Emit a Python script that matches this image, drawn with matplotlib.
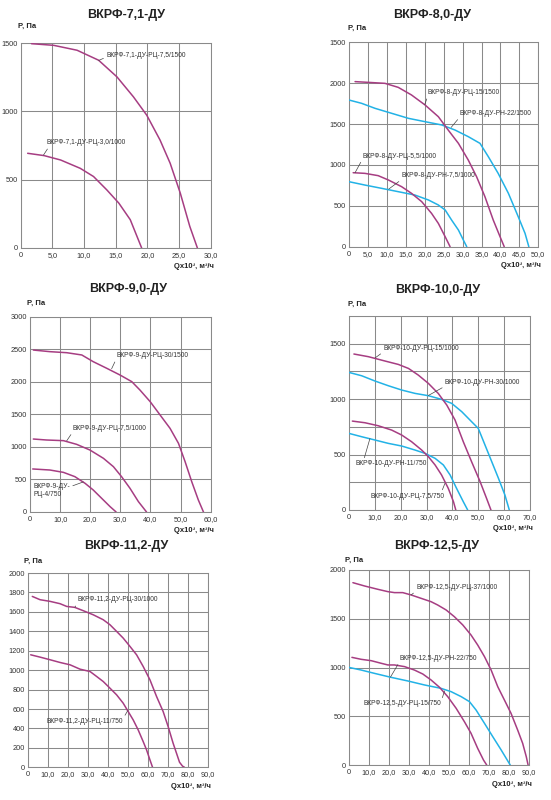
import matplotlib
matplotlib.use("Agg")
import matplotlib.pyplot as plt

plt.rcParams["font.family"] = ["Liberation Sans", "DejaVu Sans"]

W, H = 551, 800
MAGENTA = "#a63d82"
CYAN = "#22b2e6"
GRID = "#8a8a8a"
TEXT = "#333333"

# ---- ВКРФ-7,1-ДУ ----
Q71_RC75 = [1.7, 5.2, 8.9, 12.3, 15.2, 17.8, 19.9, 22.0, 23.6, 25.2, 26.7, 27.9]
P71_RC75 = [1495, 1483, 1447, 1374, 1252, 1106, 972, 790, 620, 401, 158, 0]
Q71_RC30 = [1.1, 3.7, 6.3, 9.4, 11.5, 13.6, 15.5, 17.3, 19.1]
P71_RC30 = [693, 676, 644, 583, 523, 425, 328, 207, 0]

# ---- ВКРФ-8,0-ДУ ----
Q80_RC15 = [1.6, 5.1, 9.5, 13.0, 16.5, 20.1, 23.6, 26.2, 28.9, 31.5, 33.7, 35.9, 38.1, 39.9, 41.0]
P80_RC15 = [2019, 2010, 1998, 1949, 1856, 1733, 1590, 1427, 1264, 1060, 856, 612, 326, 122, 0]
Q80_RN22 = [0, 3.3, 6.9, 11.3, 15.7, 20.1, 24.5, 28.0, 31.5, 34.6, 36.8, 39.4, 42.1, 44.7, 46.5, 47.5]
P80_RN22 = [1794, 1754, 1692, 1631, 1570, 1529, 1489, 1427, 1346, 1264, 1101, 897, 653, 367, 163, 0]
Q80_RC55 = [1.1, 4.2, 7.7, 10.4, 13.9, 16.5, 19.2, 21.8, 23.6, 25.4, 26.7]
P80_RC55 = [905, 897, 869, 816, 734, 653, 551, 408, 285, 122, 0]
Q80_RN75 = [0, 4.2, 8.6, 13.0, 17.4, 21.0, 23.6, 25.4, 27.1, 28.9, 30.2, 31.1]
P80_RN75 = [795, 754, 714, 673, 632, 571, 510, 449, 326, 204, 82, 0]

# ---- ВКРФ-9,0-ДУ ----
Q90_RC30 = [1.1, 6.6, 12.2, 17.2, 21.0, 25.5, 29.9, 33.8, 36.5, 39.9, 43.2, 46.5, 49.3, 51.5, 53.7, 55.9, 57.6]
P90_RC30 = [2488, 2463, 2447, 2412, 2309, 2207, 2104, 2002, 1874, 1695, 1490, 1285, 1055, 773, 466, 184, 0]
Q90_RC75 = [1.1, 5.5, 11.1, 15.5, 19.9, 24.4, 27.7, 30.4, 33.2, 36.0, 38.7]
P90_RC75 = [1121, 1106, 1096, 1039, 952, 824, 696, 543, 364, 159, 0]
Q90_RC4 = [0.9, 6.6, 11.1, 14.9, 18.3, 21.0, 23.8, 26.6, 28.6]
P90_RC4 = [661, 645, 609, 543, 440, 338, 210, 82, 0]

# ---- ВКРФ-10,0-ДУ ----
Q100_RC15 = [1.9, 7.5, 13.9, 19.1, 23.0, 26.8, 30.7, 34.5, 37.8, 41.0, 44.2, 47.4, 50.7, 53.2, 54.9]
P100_RC15 = [1407, 1383, 1344, 1313, 1277, 1217, 1142, 1052, 947, 812, 616, 436, 256, 105, 0]
Q100_RN30 = [0, 4.9, 10.1, 15.2, 20.4, 25.5, 30.7, 35.8, 39.7, 43.6, 47.4, 50.0, 52.6, 55.2, 57.8, 60.3, 62.0]
P100_RN30 = [1241, 1211, 1163, 1121, 1082, 1052, 1031, 998, 962, 887, 797, 736, 586, 436, 286, 135, 0]
Q100_RC75 = [1.3, 6.2, 11.3, 16.5, 20.4, 24.2, 28.1, 30.7, 33.3, 35.8, 38.4, 40.4, 41.3]
P100_RC75 = [802, 787, 760, 721, 676, 616, 541, 481, 406, 316, 195, 75, 0]
Q100_RN11 = [0, 4.9, 10.1, 15.2, 20.4, 25.5, 29.4, 33.3, 36.5, 39.1, 41.6, 44.2, 45.9]
P100_RN11 = [691, 661, 631, 601, 577, 541, 511, 466, 406, 316, 195, 75, 0]

# ---- ВКРФ-11,2-ДУ ----
Q112_RC30 = [2.3, 6.2, 11.2, 16.2, 19.5, 23.6, 27.8, 32.8, 37.8, 41.2, 44.5, 47.8, 51.2, 54.5,
             57.8, 61.2, 64.5, 67.8, 70.3, 72.8, 74.5, 76.0, 77.5, 78.5]
P112_RC30 = [1759, 1725, 1708, 1684, 1656, 1646, 1612, 1570, 1519, 1467, 1399, 1330, 1244, 1158,
             1038, 900, 729, 574, 419, 247, 144, 52, 12, 0]
Q112_RC11 = [1.5, 6.2, 11.2, 16.2, 21.2, 26.2, 31.2, 34.5, 37.8, 41.2, 44.5, 47.8, 50.3, 52.8,
             55.3, 57.8, 59.5, 61.2, 62.5]
P112_RC11 = [1158, 1134, 1107, 1079, 1055, 1010, 986, 935, 883, 814, 746, 660, 574, 488,
             385, 265, 179, 76, 0]

# ---- ВКРФ-12,5-ДУ ----
Q125_RC37 = [2.2, 8.0, 14.6, 19.6, 22.9, 27.0, 31.2, 36.2, 41.1, 44.4, 48.6, 52.7, 56.9, 61.0,
             64.3, 67.7, 71.0, 74.3, 77.6, 80.9, 84.2, 86.7, 88.5, 89.4]
P125_RC37 = [1870, 1836, 1802, 1778, 1768, 1768, 1744, 1709, 1675, 1641, 1590, 1521, 1436, 1333,
             1231, 1111, 974, 803, 667, 530, 359, 222, 85, 0]
Q125_RC15 = [1.7, 6.3, 11.3, 16.3, 19.6, 22.9, 27.9, 32.8, 37.0, 41.1, 45.3, 49.4, 53.6, 57.7,
             61.0, 64.3, 67.2, 68.8]
P125_RC15 = [1104, 1084, 1070, 1043, 1026, 1026, 1009, 974, 933, 872, 797, 701, 581, 444,
             325, 171, 51, 0]
Q125_RN22 = [0, 6.3, 12.9, 21.2, 29.5, 37.8, 46.1, 51.1, 56.1, 60.2, 63.5, 67.7, 71.8, 76.0, 80.5]
P125_RN22 = [1002, 974, 940, 899, 862, 821, 786, 752, 701, 650, 564, 427, 291, 154, 0]


def fmt_x(v):
    return "0" if v == 0 else f"{v:.1f}".replace(".", ",")


def steps(vmax, step):
    out = []
    v = 0
    while v <= vmax + 1e-9:
        out.append(v)
        v += step
    return out


def make_axes(fig, box, title, title_x, title_y, plab_xy, xmax, xstep, ymax, ystep,
              ylabels=None, ygrid_step=None):
    # box = (left, top, right, bottom) in pixels
    l, t, r, b = box
    ax = fig.add_axes([l / W, 1 - b / H, (r - l) / W, (b - t) / H])
    ax.set_xlim(0, xmax)
    ax.set_ylim(0, ymax)
    xt = steps(xmax, xstep)
    ax.set_xticks(xt)
    ax.set_xticklabels([fmt_x(v) for v in xt])
    yt = steps(ymax, ystep)
    ax.set_yticks(yt)
    ax.set_yticklabels(ylabels if ylabels else [str(v) for v in yt])
    if ygrid_step:
        ax.set_yticks(steps(ymax, ygrid_step), minor=True)
        ax.grid(True, which="minor", axis="y", color=GRID, lw=0.75)
        ax.tick_params(which="minor", length=0)
    ax.grid(True, color=GRID, lw=0.75)
    ax.set_axisbelow(True)
    ax.tick_params(length=0, labelsize=5.3, colors=TEXT)
    ax.tick_params(axis="x", pad=3)
    ax.tick_params(axis="y", pad=2)
    for s in ax.spines.values():
        s.set_color(GRID)
        s.set_linewidth(0.75)
    fig.text(title_x / W, 1 - title_y / H, title, ha="center", va="center",
             fontsize=9.0, fontweight="bold", color="#222222")
    fig.text(plab_xy[0] / W, 1 - plab_xy[1] / H, "P, Па", ha="left", va="center",
             fontsize=5.5, fontweight="bold", color="#222222")
    fig.text((r + 3) / W, 1 - (b + 19) / H, "Qx10³, м³/ч", ha="right", va="center",
             fontsize=5.5, fontweight="bold", color="#222222")
    return ax


def curve(ax, q, p, color):
    ax.plot(q, p, color=color, lw=1.1, solid_capstyle="round", zorder=3)


def label(ax, text, xy, xytext, rel=(0, 0)):
    # rel: point of the text box where the leader line starts
    ax.annotate(text, xy=xy, xytext=xytext, ha="left", va="center", fontsize=4.8,
                color=TEXT, zorder=4,
                arrowprops=dict(arrowstyle="-", color="#444444", lw=0.5,
                                relpos=rel, shrinkA=0, shrinkB=0))


fig = plt.figure(figsize=(W / 100, H / 100), dpi=100)

ax1 = make_axes(fig, (20.7, 43, 210.7, 248), "ВКРФ-7,1-ДУ", 126, 15, (18, 26),
                30, 5, 1500, 500)
curve(ax1, Q71_RC75, P71_RC75, MAGENTA)
curve(ax1, Q71_RC30, P71_RC30, MAGENTA)
label(ax1, "ВКРФ-7,1-ДУ-РЦ-7,5/1500", (12.3, 1372), (13.5, 1412), rel=(0, 0.2))
label(ax1, "ВКРФ-7,1-ДУ-РЦ-3,0/1000", (3.6, 680), (4.0, 770), rel=(0.04, 0))

ax2 = make_axes(fig, (349, 42.3, 538.3, 246.7), "ВКРФ-8,0-ДУ", 432, 15, (347.7, 28),
                50, 5, 2500, 500, ylabels=["0", "500", "1000", "1500", "2000", "1500"])
curve(ax2, Q80_RN22, P80_RN22, CYAN)
curve(ax2, Q80_RN75, P80_RN75, CYAN)
curve(ax2, Q80_RC15, P80_RC15, MAGENTA)
curve(ax2, Q80_RC55, P80_RC55, MAGENTA)
label(ax2, "ВКРФ-8-ДУ-РЦ-15/1500", (20.0, 1738), (20.8, 1884))
label(ax2, "ВКРФ-8-ДУ-РН-22/1500", (27.0, 1460), (29.3, 1631))
label(ax2, "ВКРФ-8-ДУ-РЦ-5,5/1000", (1.6, 905), (3.5, 1109))
label(ax2, "ВКРФ-8-ДУ-РН-7,5/1000", (10.5, 705), (13.9, 865))

ax3 = make_axes(fig, (30, 316.7, 210.7, 512), "ВКРФ-9,0-ДУ", 127.7, 289, (26.7, 303.3),
                60, 10, 3000, 500)
curve(ax3, Q90_RC30, P90_RC30, MAGENTA)
curve(ax3, Q90_RC75, P90_RC75, MAGENTA)
curve(ax3, Q90_RC4, P90_RC4, MAGENTA)
label(ax3, "ВКРФ-9-ДУ-РЦ-30/1500", (27.1, 2200), (28.6, 2401))
label(ax3, "ВКРФ-9-ДУ-РЦ-7,5/1000", (12.2, 1094), (14.2, 1285))
label(ax3, "ВКРФ-9-ДУ-\nРЦ-4/750", (17.7, 462), (1.1, 330), rel=(1, 0.75))

ax4 = make_axes(fig, (349, 316, 530, 510), "ВКРФ-10,0-ДУ", 438, 290, (347.7, 304),
                70, 10, 1750, 500, ygrid_step=250)
curve(ax4, Q100_RN30, P100_RN30, CYAN)
curve(ax4, Q100_RN11, P100_RN11, CYAN)
curve(ax4, Q100_RC15, P100_RC15, MAGENTA)
curve(ax4, Q100_RC75, P100_RC75, MAGENTA)
label(ax4, "ВКРФ-10-ДУ-РЦ-15/1000", (10.1, 1372), (13.3, 1458))
label(ax4, "ВКРФ-10-ДУ-РН-30/1000", (30.7, 1033), (37.1, 1148))
label(ax4, "ВКРФ-10-ДУ-РН-11/750", (8.1, 645), (2.6, 415), rel=(0.11, 1))
label(ax4, "ВКРФ-10-ДУ-РЦ-7,5/750", (37.1, 240), (8.5, 126), rel=(0.95, 1))

ax5 = make_axes(fig, (27.7, 573, 207.5, 767.3), "ВКРФ-11,2-ДУ", 126, 546, (24, 561.7),
                90, 10, 2000, 200)
curve(ax5, Q112_RC30, P112_RC30, MAGENTA)
curve(ax5, Q112_RC11, P112_RC11, MAGENTA)
label(ax5, "ВКРФ-11,2-ДУ-РЦ-30/1000", (23.6, 1646), (24.8, 1725))
label(ax5, "ВКРФ-11,2-ДУ-РЦ-11/750", (50.0, 581), (9.2, 471), rel=(1, 0.8))

ax6 = make_axes(fig, (348.5, 570, 529.3, 765), "ВКРФ-12,5-ДУ", 437, 546, (345, 560.7),
                90, 10, 2000, 500)
curve(ax6, Q125_RN22, P125_RN22, CYAN)
curve(ax6, Q125_RC37, P125_RC37, MAGENTA)
curve(ax6, Q125_RC15, P125_RC15, MAGENTA)
label(ax6, "ВКРФ-12,5-ДУ-РЦ-37/1000", (31.2, 1744), (33.7, 1822))
label(ax6, "ВКРФ-12,5-ДУ-РН-22/750", (20.9, 902), (25.4, 1094))
label(ax6, "ВКРФ-12,5-ДУ-РЦ-15/750", (47.8, 760), (7.6, 626), rel=(1, 1))

fig.savefig("out.png", dpi=100, facecolor="white")
